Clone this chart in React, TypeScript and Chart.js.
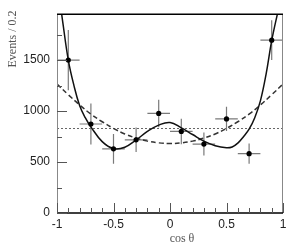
import React, { useEffect, useRef } from "react";
import { Chart, registerables } from "chart.js";

Chart.register(...registerables);

const binCenters = [-0.9, -0.7, -0.5, -0.3, -0.1, 0.1, 0.3, 0.5, 0.7, 0.9];
const counts = [1500, 873, 629, 718, 977, 800, 676, 923, 582, 1695];
const errors = [295, 200, 145, 120, 135, 125, 113, 118, 100, 195];
const binHalfWidth = 0.1;

const fitX = [-0.965, -0.95, -0.9, -0.85, -0.8, -0.75, -0.7, -0.6, -0.5, -0.4, -0.3, -0.2, -0.1, 0, 0.1, 0.2, 0.3, 0.4, 0.5, 0.55, 0.6, 0.65, 0.7, 0.75, 0.8, 0.85, 0.9, 0.96];
const fitY = [2000, 1880, 1500, 1250, 1055, 935, 845, 700, 632, 645, 716, 800, 862, 888, 835, 770, 705, 660, 640, 648, 685, 748, 822, 935, 1100, 1360, 1690, 2000];

const altX = [-1, -0.9, -0.8, -0.7, -0.6, -0.5, -0.4, -0.3, -0.2, -0.1, 0, 0.1, 0.2, 0.3, 0.4, 0.5, 0.6, 0.7, 0.8, 0.9, 1];
const altY = [1265, 1160, 1060, 970, 895, 830, 775, 735, 705, 688, 682, 688, 705, 735, 775, 830, 895, 970, 1060, 1160, 1265];

const flatLevel = 835;

const xMajorTicks = [-1, -0.5, 0, 0.5, 1];
const xMinorTicks = [-0.9, -0.8, -0.7, -0.6, -0.4, -0.3, -0.2, -0.1, 0.1, 0.2, 0.3, 0.4, 0.6, 0.7, 0.8, 0.9];
const yMajorTicks = [0, 500, 1000, 1500];
const yMinorTicks = [250, 750, 1250, 1750];

const yTitle = "Events / 0.2";
const xTitle = "cos \u03b8";

const decor = {
  id: "decor",
  beforeDatasetsDraw(chart: any) {
    const { ctx, chartArea: a, scales } = chart;
    const xs = scales.x;
    const ys = scales.y;
    ctx.save();
    ctx.strokeStyle = "#666";
    ctx.lineWidth = 1;
    ctx.setLineDash([2, 2]);
    const yf = Math.round(ys.getPixelForValue(flatLevel)) + 0.5;
    ctx.beginPath();
    ctx.moveTo(a.left, yf);
    ctx.lineTo(a.right, yf);
    ctx.stroke();
    ctx.setLineDash([]);
    ctx.strokeStyle = "#7a7a7a";
    ctx.lineWidth = 1.2;
    binCenters.forEach((c, i) => {
      const px = xs.getPixelForValue(c);
      const py = ys.getPixelForValue(counts[i]);
      ctx.beginPath();
      ctx.moveTo(px, Math.max(a.top, ys.getPixelForValue(counts[i] + errors[i])));
      ctx.lineTo(px, ys.getPixelForValue(counts[i] - errors[i]));
      ctx.moveTo(xs.getPixelForValue(c - binHalfWidth), py);
      ctx.lineTo(xs.getPixelForValue(c + binHalfWidth), py);
      ctx.stroke();
    });
    ctx.restore();
  },
  afterDraw(chart: any) {
    const { ctx, chartArea: a, scales } = chart;
    const xs = scales.x;
    const ys = scales.y;
    ctx.save();
    ctx.strokeStyle = "#888";
    ctx.lineWidth = 1;
    ctx.beginPath();
    ctx.moveTo(a.left + 0.5, a.top);
    ctx.lineTo(a.left + 0.5, a.bottom);
    ctx.moveTo(a.right - 0.5, a.top);
    ctx.lineTo(a.right - 0.5, a.bottom);
    ctx.stroke();
    ctx.strokeStyle = "#000";
    ctx.lineWidth = 1.6;
    ctx.beginPath();
    ctx.moveTo(a.left, a.top);
    ctx.lineTo(a.right, a.top);
    ctx.moveTo(a.left, a.bottom);
    ctx.lineTo(a.right, a.bottom);
    ctx.stroke();
    ctx.strokeStyle = "#555";
    ctx.lineWidth = 1;
    ctx.beginPath();
    yMajorTicks.forEach((v) => {
      const p = Math.round(ys.getPixelForValue(v)) + 0.5;
      ctx.moveTo(a.left, p);
      ctx.lineTo(a.left + 10, p);
    });
    yMinorTicks.forEach((v) => {
      const p = Math.round(ys.getPixelForValue(v)) + 0.5;
      ctx.moveTo(a.left, p);
      ctx.lineTo(a.left + 5, p);
    });
    xMajorTicks.forEach((v) => {
      const p = Math.round(xs.getPixelForValue(v)) + 0.5;
      ctx.moveTo(p, a.bottom);
      ctx.lineTo(p, a.bottom - 10);
    });
    xMinorTicks.forEach((v) => {
      const p = Math.round(xs.getPixelForValue(v)) + 0.5;
      ctx.moveTo(p, a.bottom);
      ctx.lineTo(p, a.bottom - 5);
    });
    ctx.stroke();
    ctx.fillStyle = "#555";
    ctx.font = "12px 'Liberation Serif'";
    ctx.textAlign = "center";
    ctx.textBaseline = "alphabetic";
    ctx.fillText(xTitle, 182, 242);
    ctx.textBaseline = "middle";
    ctx.translate(12.5, 39);
    ctx.rotate(-Math.PI / 2);
    ctx.fillText(yTitle, 0, 0);
    ctx.restore();
  },
};

export default function App() {
  const ref = useRef<HTMLCanvasElement | null>(null);
  useEffect(() => {
    if (!ref.current) return;
    const chart = new Chart(ref.current, {
      type: "scatter",
      data: {
        datasets: [
          {
            data: fitX.map((x, i) => ({ x, y: fitY[i] })),
            showLine: true,
            borderColor: "#111",
            borderWidth: 1.5,
            pointRadius: 0,
            tension: 0.4,
            order: 2,
          } as any,
          {
            data: altX.map((x, i) => ({ x, y: altY[i] })),
            showLine: true,
            borderColor: "#333",
            borderWidth: 1.5,
            borderDash: [5, 3],
            pointRadius: 0,
            tension: 0.4,
            order: 3,
          } as any,
          {
            data: binCenters.map((x, i) => ({ x, y: counts[i] })),
            pointRadius: 2.6,
            pointBackgroundColor: "#000",
            pointBorderColor: "#000",
            borderWidth: 0,
            order: 1,
          } as any,
        ],
      },
      options: {
        animation: false,
        responsive: false,
        events: [],
        layout: { padding: { top: 7, right: 11, left: 0, bottom: 0 } },
        plugins: { legend: { display: false }, tooltip: { enabled: false } },
        scales: {
          x: {
            type: "linear",
            min: -1,
            max: 1,
            grid: { display: false, drawTicks: false },
            border: { display: false },
            afterBuildTicks: (s: any) => {
              s.ticks = xMajorTicks.map((v) => ({ value: v }));
            },
            afterFit: (s: any) => {
              s.height = 33;
            },
            ticks: {
              autoSkip: false,
              maxRotation: 0,
              padding: 4,
              color: "#222",
              font: { family: "'Liberation Sans'", size: 12 },
              callback: (v: any) => String(v),
            },
          },
          y: {
            type: "linear",
            min: 0,
            max: 1950,
            grid: { display: false, drawTicks: false },
            border: { display: false },
            afterBuildTicks: (s: any) => {
              s.ticks = yMajorTicks.map((v) => ({ value: v }));
            },
            afterFit: (s: any) => {
              s.width = 57;
            },
            ticks: {
              padding: 7,
              color: "#222",
              font: { family: "'Liberation Sans'", size: 12 },
              callback: (v: any) => String(v),
            },
          },
        },
      },
      plugins: [decor],
    });
    return () => chart.destroy();
  }, []);
  return (
    <div style={{ position: "fixed", left: 0, top: 0, width: 294, height: 246, background: "#fff" }}>
      <canvas ref={ref} width={294} height={246} />
    </div>
  );
}
